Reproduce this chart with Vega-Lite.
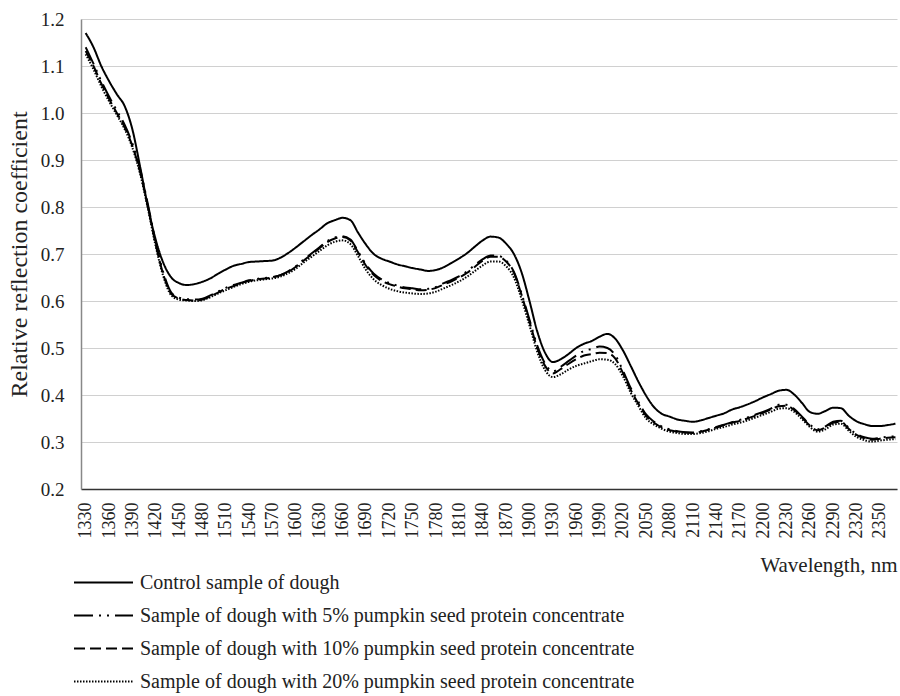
{
  "$schema": "https://vega.github.io/schema/vega-lite/v6.json",
  "width": 816,
  "height": 470,
  "autosize": {"type": "none"},
  "padding": {"left": 81, "top": 19, "right": 3, "bottom": 207},
  "background": "white",
  "config": {
    "view": {"stroke": null},
    "font": "Liberation Serif",
    "axis": {"labelFont": "Liberation Serif", "titleFont": "Liberation Serif", "labelColor": "#222", "titleColor": "#222", "titleFontWeight": "normal"},
    "legend": {"labelFont": "Liberation Serif", "labelColor": "#222"}
  },
  "data": {
    "values": [
      {"nm":1330,"c":1.170,"p5":1.140,"p10":1.132,"p20":1.125},
      {"nm":1340,"c":1.140,"p5":1.105,"p10":1.100,"p20":1.093},
      {"nm":1350,"c":1.100,"p5":1.068,"p10":1.063,"p20":1.057},
      {"nm":1360,"c":1.068,"p5":1.035,"p10":1.030,"p20":1.025},
      {"nm":1370,"c":1.040,"p5":1.005,"p10":1.000,"p20":0.996},
      {"nm":1380,"c":1.015,"p5":0.975,"p10":0.970,"p20":0.966},
      {"nm":1390,"c":0.965,"p5":0.935,"p10":0.930,"p20":0.926},
      {"nm":1400,"c":0.885,"p5":0.880,"p10":0.874,"p20":0.870},
      {"nm":1410,"c":0.800,"p5":0.805,"p10":0.800,"p20":0.796},
      {"nm":1420,"c":0.730,"p5":0.725,"p10":0.720,"p20":0.716},
      {"nm":1430,"c":0.680,"p5":0.659,"p10":0.655,"p20":0.651},
      {"nm":1440,"c":0.650,"p5":0.618,"p10":0.615,"p20":0.612},
      {"nm":1450,"c":0.638,"p5":0.607,"p10":0.605,"p20":0.603},
      {"nm":1460,"c":0.634,"p5":0.604,"p10":0.602,"p20":0.601},
      {"nm":1470,"c":0.636,"p5":0.603,"p10":0.601,"p20":0.600},
      {"nm":1480,"c":0.641,"p5":0.605,"p10":0.603,"p20":0.602},
      {"nm":1490,"c":0.648,"p5":0.612,"p10":0.610,"p20":0.608},
      {"nm":1500,"c":0.658,"p5":0.620,"p10":0.618,"p20":0.616},
      {"nm":1510,"c":0.667,"p5":0.628,"p10":0.626,"p20":0.623},
      {"nm":1520,"c":0.675,"p5":0.634,"p10":0.632,"p20":0.630},
      {"nm":1530,"c":0.679,"p5":0.639,"p10":0.638,"p20":0.636},
      {"nm":1540,"c":0.683,"p5":0.644,"p10":0.643,"p20":0.641},
      {"nm":1550,"c":0.684,"p5":0.647,"p10":0.646,"p20":0.644},
      {"nm":1560,"c":0.685,"p5":0.649,"p10":0.648,"p20":0.646},
      {"nm":1570,"c":0.686,"p5":0.651,"p10":0.650,"p20":0.648},
      {"nm":1580,"c":0.692,"p5":0.655,"p10":0.655,"p20":0.652},
      {"nm":1590,"c":0.702,"p5":0.663,"p10":0.662,"p20":0.659},
      {"nm":1600,"c":0.714,"p5":0.674,"p10":0.673,"p20":0.669},
      {"nm":1610,"c":0.727,"p5":0.688,"p10":0.686,"p20":0.682},
      {"nm":1620,"c":0.740,"p5":0.701,"p10":0.699,"p20":0.694},
      {"nm":1630,"c":0.752,"p5":0.714,"p10":0.712,"p20":0.706},
      {"nm":1640,"c":0.765,"p5":0.727,"p10":0.725,"p20":0.718},
      {"nm":1650,"c":0.772,"p5":0.735,"p10":0.733,"p20":0.726},
      {"nm":1660,"c":0.777,"p5":0.738,"p10":0.736,"p20":0.729},
      {"nm":1670,"c":0.772,"p5":0.731,"p10":0.729,"p20":0.721},
      {"nm":1680,"c":0.745,"p5":0.705,"p10":0.703,"p20":0.695},
      {"nm":1690,"c":0.720,"p5":0.678,"p10":0.675,"p20":0.666},
      {"nm":1700,"c":0.700,"p5":0.658,"p10":0.655,"p20":0.646},
      {"nm":1710,"c":0.690,"p5":0.646,"p10":0.643,"p20":0.634},
      {"nm":1720,"c":0.684,"p5":0.638,"p10":0.636,"p20":0.626},
      {"nm":1730,"c":0.678,"p5":0.633,"p10":0.631,"p20":0.621},
      {"nm":1740,"c":0.674,"p5":0.629,"p10":0.627,"p20":0.618},
      {"nm":1750,"c":0.670,"p5":0.627,"p10":0.625,"p20":0.616},
      {"nm":1760,"c":0.667,"p5":0.625,"p10":0.623,"p20":0.615},
      {"nm":1770,"c":0.664,"p5":0.626,"p10":0.624,"p20":0.616},
      {"nm":1780,"c":0.666,"p5":0.630,"p10":0.628,"p20":0.620},
      {"nm":1790,"c":0.672,"p5":0.638,"p10":0.635,"p20":0.627},
      {"nm":1800,"c":0.681,"p5":0.645,"p10":0.642,"p20":0.634},
      {"nm":1810,"c":0.691,"p5":0.653,"p10":0.650,"p20":0.642},
      {"nm":1820,"c":0.702,"p5":0.663,"p10":0.660,"p20":0.652},
      {"nm":1830,"c":0.716,"p5":0.677,"p10":0.673,"p20":0.664},
      {"nm":1840,"c":0.729,"p5":0.689,"p10":0.686,"p20":0.676},
      {"nm":1850,"c":0.737,"p5":0.697,"p10":0.694,"p20":0.684},
      {"nm":1860,"c":0.735,"p5":0.696,"p10":0.694,"p20":0.684},
      {"nm":1870,"c":0.722,"p5":0.686,"p10":0.684,"p20":0.674},
      {"nm":1880,"c":0.700,"p5":0.662,"p10":0.660,"p20":0.650},
      {"nm":1890,"c":0.660,"p5":0.615,"p10":0.612,"p20":0.603},
      {"nm":1900,"c":0.600,"p5":0.560,"p10":0.556,"p20":0.548},
      {"nm":1910,"c":0.535,"p5":0.505,"p10":0.500,"p20":0.492},
      {"nm":1920,"c":0.490,"p5":0.467,"p10":0.462,"p20":0.453},
      {"nm":1930,"c":0.470,"p5":0.450,"p10":0.446,"p20":0.438},
      {"nm":1940,"c":0.476,"p5":0.460,"p10":0.455,"p20":0.444},
      {"nm":1950,"c":0.487,"p5":0.472,"p10":0.466,"p20":0.454},
      {"nm":1960,"c":0.500,"p5":0.484,"p10":0.476,"p20":0.462},
      {"nm":1970,"c":0.509,"p5":0.494,"p10":0.484,"p20":0.467},
      {"nm":1980,"c":0.515,"p5":0.498,"p10":0.487,"p20":0.472},
      {"nm":1990,"c":0.524,"p5":0.503,"p10":0.490,"p20":0.476},
      {"nm":2000,"c":0.530,"p5":0.500,"p10":0.489,"p20":0.475},
      {"nm":2010,"c":0.520,"p5":0.485,"p10":0.478,"p20":0.466},
      {"nm":2020,"c":0.495,"p5":0.452,"p10":0.447,"p20":0.440},
      {"nm":2030,"c":0.462,"p5":0.415,"p10":0.411,"p20":0.405},
      {"nm":2040,"c":0.428,"p5":0.385,"p10":0.381,"p20":0.376},
      {"nm":2050,"c":0.398,"p5":0.358,"p10":0.355,"p20":0.350},
      {"nm":2060,"c":0.374,"p5":0.343,"p10":0.341,"p20":0.337},
      {"nm":2070,"c":0.360,"p5":0.333,"p10":0.331,"p20":0.328},
      {"nm":2080,"c":0.354,"p5":0.327,"p10":0.325,"p20":0.322},
      {"nm":2090,"c":0.348,"p5":0.323,"p10":0.322,"p20":0.319},
      {"nm":2100,"c":0.345,"p5":0.321,"p10":0.320,"p20":0.317},
      {"nm":2110,"c":0.343,"p5":0.320,"p10":0.319,"p20":0.317},
      {"nm":2120,"c":0.346,"p5":0.323,"p10":0.322,"p20":0.319},
      {"nm":2130,"c":0.351,"p5":0.327,"p10":0.326,"p20":0.323},
      {"nm":2140,"c":0.356,"p5":0.332,"p10":0.331,"p20":0.328},
      {"nm":2150,"c":0.361,"p5":0.337,"p10":0.336,"p20":0.332},
      {"nm":2160,"c":0.369,"p5":0.342,"p10":0.341,"p20":0.337},
      {"nm":2170,"c":0.374,"p5":0.347,"p10":0.345,"p20":0.341},
      {"nm":2180,"c":0.380,"p5":0.352,"p10":0.350,"p20":0.346},
      {"nm":2190,"c":0.387,"p5":0.358,"p10":0.356,"p20":0.352},
      {"nm":2200,"c":0.395,"p5":0.364,"p10":0.362,"p20":0.358},
      {"nm":2210,"c":0.402,"p5":0.371,"p10":0.369,"p20":0.364},
      {"nm":2220,"c":0.409,"p5":0.379,"p10":0.376,"p20":0.371},
      {"nm":2230,"c":0.411,"p5":0.379,"p10":0.377,"p20":0.372},
      {"nm":2240,"c":0.401,"p5":0.370,"p10":0.368,"p20":0.364},
      {"nm":2250,"c":0.383,"p5":0.354,"p10":0.352,"p20":0.349},
      {"nm":2260,"c":0.364,"p5":0.337,"p10":0.335,"p20":0.332},
      {"nm":2270,"c":0.360,"p5":0.327,"p10":0.325,"p20":0.322},
      {"nm":2280,"c":0.366,"p5":0.333,"p10":0.331,"p20":0.327},
      {"nm":2290,"c":0.373,"p5":0.343,"p10":0.341,"p20":0.337},
      {"nm":2300,"c":0.372,"p5":0.345,"p10":0.343,"p20":0.339},
      {"nm":2310,"c":0.356,"p5":0.330,"p10":0.328,"p20":0.324},
      {"nm":2320,"c":0.344,"p5":0.317,"p10":0.315,"p20":0.311},
      {"nm":2330,"c":0.338,"p5":0.310,"p10":0.308,"p20":0.304},
      {"nm":2340,"c":0.334,"p5":0.307,"p10":0.305,"p20":0.301},
      {"nm":2350,"c":0.334,"p5":0.309,"p10":0.307,"p20":0.303},
      {"nm":2360,"c":0.336,"p5":0.311,"p10":0.309,"p20":0.305},
      {"nm":2370,"c":0.339,"p5":0.312,"p10":0.310,"p20":0.306}
    ]
  },
  "transform": [
    {"fold": ["c", "p5", "p10", "p20"], "as": ["sample", "r"]}
  ],
  "mark": {"type": "line", "strokeWidth": 2, "color": "#000", "interpolate": "monotone"},
  "encoding": {
    "x": {
      "field": "nm",
      "type": "quantitative",
      "scale": {"domain": [1324, 2372], "nice": false, "zero": false},
      "axis": {
        "values": [1330,1360,1390,1420,1450,1480,1510,1540,1570,1600,1630,1660,1690,1720,1750,1780,1810,1840,1870,1900,1930,1960,1990,2020,2050,2080,2110,2140,2170,2200,2230,2260,2290,2320,2350],
        "format": "d",
        "labelAngle": -90,
        "labelFontSize": 18,
        "labelPadding": 13,
        "ticks": false,
        "grid": false,
        "domainColor": "#333",
        "domainWidth": 1.5,
        "title": "Wavelength, nm",
        "titleFontSize": 21,
        "titleAnchor": "end",
        "titleAlign": "right",
        "titlePadding": 16,
        "labelOverlap": false
      }
    },
    "y": {
      "field": "r",
      "type": "quantitative",
      "scale": {"domain": [0.2, 1.2], "nice": false, "zero": false},
      "axis": {
        "values": [0.2,0.3,0.4,0.5,0.6,0.7,0.8,0.9,1.0,1.1,1.2],
        "format": ".1f",
        "labelFontSize": 19,
        "labelPadding": 17,
        "ticks": false,
        "gridColor": "#d0d0d0",
        "gridWidth": 1,
        "domainColor": "#888",
        "domainWidth": 1.5,
        "title": "Relative reflection coefficient",
        "titleFontSize": 24,
        "titlePadding": 9
      }
    },
    "strokeDash": {
      "field": "sample",
      "type": "nominal",
      "scale": {
        "domain": ["c", "p5", "p10", "p20"],
        "range": [[1, 0], [19, 6, 2, 6, 2, 6], [11, 5], [1.5, 1.5]]
      },
      "legend": {
        "title": null,
        "orient": "none",
        "legendX": -8,
        "legendY": 547,
        "padding": 0,
        "symbolType": "stroke",
        "symbolSize": 3481,
        "symbolStrokeWidth": 2,
        "symbolStrokeColor": "#000",
        "labelFontSize": 20,
        "labelOffset": 6,
        "clipHeight": 33,
        "rowPadding": 0,
        "labelLimit": 700,
        "labelExpr": "{'c': 'Control sample of dough', 'p5': 'Sample of dough with 5% pumpkin seed protein concentrate', 'p10': 'Sample of dough with 10% pumpkin seed protein concentrate', 'p20': 'Sample of dough with 20% pumpkin seed protein concentrate'}[datum.label]"
      }
    }
  }
}
